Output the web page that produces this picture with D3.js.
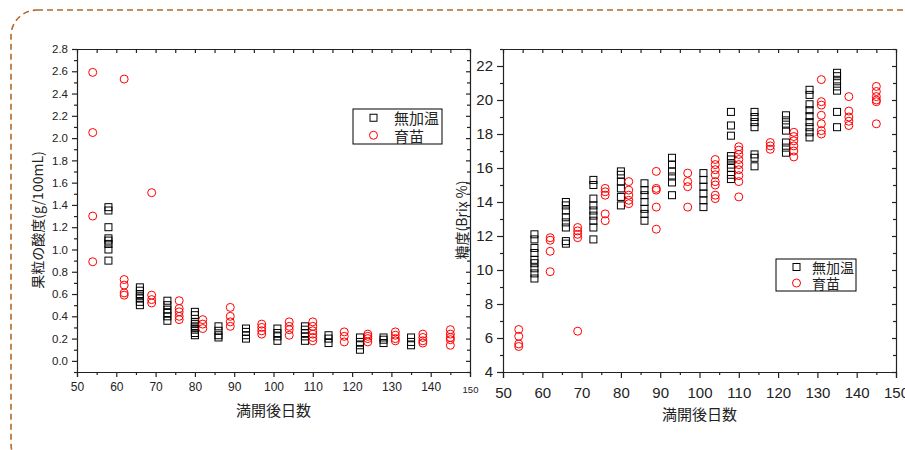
<!DOCTYPE html>
<html>
<head>
<meta charset="utf-8">
<script src="https://cdn.jsdelivr.net/npm/d3@7"></script>
<style>
  body { margin: 0; background: #fff; }
  svg { display: block; }
  .tick text { font-family: "Liberation Sans", Arial, sans-serif; fill: #222; }
  .axis path, .axis line { stroke: #222; }
  .ttl { font-family: "Noto Sans CJK JP", sans-serif; fill: #222; }
</style>
</head>
<body>
<svg id="chart" width="905" height="450"></svg>
<script>
// 日数
let sqDays = [58, 66, 73, 80, 86, 93, 101, 108, 114, 122, 128, 135];
let ciDays = [54, 62, 69, 76, 82, 89, 97, 104, 110, 118, 124, 131, 138, 145];

// 果粒の酸度 (g/100mL)
let acidSq = [
  [1.38, 1.35, 1.20, 1.10, 1.08, 1.05, 1.00, 0.90],
  [0.66, 0.63, 0.60, 0.58, 0.56, 0.53, 0.50],
  [0.54, 0.50, 0.46, 0.43, 0.40, 0.36],
  [0.44, 0.41, 0.35, 0.33, 0.31, 0.30, 0.28, 0.25, 0.23],
  [0.31, 0.27, 0.23, 0.21],
  [0.29, 0.26, 0.23, 0.20],
  [0.29, 0.25, 0.22, 0.18],
  [0.31, 0.28, 0.25, 0.22, 0.18],
  [0.23, 0.20, 0.16],
  [0.21, 0.17, 0.14, 0.10],
  [0.21, 0.19, 0.16],
  [0.21, 0.17, 0.14]
];
let acidCi = [
  [2.59, 2.05, 1.30, 0.89],
  [2.53, 0.73, 0.68, 0.61, 0.59],
  [1.51, 0.59, 0.55, 0.52],
  [0.54, 0.47, 0.44, 0.40, 0.37],
  [0.37, 0.33, 0.29],
  [0.48, 0.40, 0.35, 0.31],
  [0.33, 0.30, 0.27, 0.24],
  [0.35, 0.31, 0.28, 0.23],
  [0.35, 0.31, 0.27, 0.24, 0.21, 0.18],
  [0.26, 0.22, 0.17],
  [0.24, 0.22, 0.20, 0.17],
  [0.26, 0.23, 0.20, 0.18],
  [0.24, 0.21, 0.18, 0.16],
  [0.28, 0.24, 0.21, 0.19, 0.14]
];

// 糖度 (Brix %)
let brixSq = [
  [12.1, 11.8, 11.3, 11.0, 10.6, 10.4, 10.1, 9.8, 9.5],
  [14.0, 13.8, 13.5, 13.1, 12.8, 12.5, 11.7, 11.55],
  [15.3, 15.0, 14.2, 13.8, 13.5, 13.2, 12.9, 12.5, 11.8],
  [15.8, 15.6, 15.2, 14.8, 14.3, 13.8],
  [15.1, 14.7, 14.4, 14.0, 13.6, 13.3, 12.9],
  [16.6, 16.2, 15.8, 15.5, 15.15, 14.4],
  [15.7, 15.3, 14.9, 14.5, 14.1, 13.7],
  [19.3, 18.5, 17.9, 16.7, 16.5, 16.2, 16.0, 15.6, 15.35],
  [19.3, 19.0, 18.7, 18.4, 16.8, 16.6, 16.1],
  [19.1, 18.8, 18.55, 18.2, 17.5, 17.2, 16.9],
  [20.6, 20.3, 19.75, 19.4, 19.05, 18.7, 18.4, 18.1, 17.8],
  [21.6, 21.4, 21.1, 20.8, 20.55, 19.3, 18.4]
];
let brixCi = [
  [6.5, 6.1, 5.65, 5.5],
  [11.9, 11.75, 11.1, 9.9],
  [12.5, 12.3, 12.1, 11.9, 6.4],
  [14.8, 14.6, 14.4, 13.3, 12.9],
  [15.2, 14.7, 14.4, 14.1, 13.9],
  [15.8, 14.8, 14.7, 13.7, 12.4],
  [15.7, 15.2, 14.9, 13.7],
  [16.5, 16.2, 15.9, 15.6, 15.2, 15.0, 14.4, 14.2],
  [17.25, 17.05, 16.8, 16.5, 16.2, 15.9, 15.55, 15.2, 14.3],
  [17.5, 17.3, 17.1],
  [18.1, 17.85, 17.6, 17.3, 17.0, 16.65],
  [21.2, 19.9, 19.7, 19.1, 18.6, 18.2, 18.0],
  [20.2, 19.35, 19.0, 18.75, 18.5],
  [20.8, 20.5, 20.2, 20.0, 19.9, 18.6]
];

let seriesNames = ["無加温", "育苗"];

let svg = d3.select("#chart");

// 点線の枠
svg.append("rect")
  .attr("x", 11).attr("y", 10)
  .attr("width", 915).attr("height", 460)
  .attr("rx", 26).attr("ry", 26)
  .attr("fill", "none")
  .attr("stroke", "#b06a28")
  .attr("stroke-width", 1.6)
  .attr("stroke-dasharray", "6,4");

function flat(days, vals) {
  let out = [];
  days.forEach(function(d, i) {
    vals[i].forEach(function(v) { out.push({day: d, v: v}); });
  });
  return out;
}

function panel(o) {
  let x = d3.scaleLinear().domain([50, 150]).range([o.x0, o.x1]);
  let y = d3.scaleLinear().domain(o.yDom).range([372, 49]);
  let g = svg.append("g");

  let xMaj = d3.range(50, 151, 10);
  let xMin = d3.range(55, 150, 10);

  // 下軸
  g.append("g").attr("class", "axis")
    .attr("transform", "translate(0,372)")
    .call(d3.axisBottom(x).tickValues(xMaj).tickSize(o.tk).tickPadding(o.xPad))
    .call(function(s) { s.selectAll("text").style("font-size", o.fx + "px"); });
  g.append("g").attr("class", "axis")
    .attr("transform", "translate(0,372)")
    .call(d3.axisBottom(x).tickValues(xMin).tickSize(3).tickFormat(""))
    .select(".domain").remove();
  // 上軸 (内向き)
  g.append("g").attr("class", "axis")
    .attr("transform", "translate(0,49)")
    .call(d3.axisTop(x).tickValues(xMaj.concat(xMin)).tickSize(-4).tickFormat("").tickSizeOuter(0));
  // 左軸
  g.append("g").attr("class", "axis")
    .attr("transform", "translate(" + o.x0 + ",0)")
    .call(d3.axisLeft(y).tickValues(o.yMaj).tickSize(o.tk).tickPadding(4).tickFormat(o.fmt).tickSizeOuter(0))
    .call(function(s) { s.selectAll("text").style("font-size", o.fy + "px"); });
  g.append("g").attr("class", "axis")
    .attr("transform", "translate(" + o.x0 + ",0)")
    .call(d3.axisLeft(y).tickValues(o.yMin).tickSize(3).tickFormat(""))
    .select(".domain").remove();
  // 右軸 (内向き)
  g.append("g").attr("class", "axis")
    .attr("transform", "translate(" + o.x1 + ",0)")
    .call(d3.axisRight(y).tickValues(o.yMaj).tickSize(-4).tickFormat("").tickSizeOuter(0));
  g.append("g").attr("class", "axis")
    .attr("transform", "translate(" + o.x1 + ",0)")
    .call(d3.axisRight(y).tickValues(o.yMin).tickSize(-3).tickFormat(""))
    .select(".domain").remove();
  g.selectAll(".axis path, .axis line").attr("stroke-width", 1.2);

  // 無加温 (□)
  g.selectAll(".sq").data(flat(sqDays, o.sq)).enter().append("rect")
    .attr("class", "sq")
    .attr("x", function(d) { return x(d.day) - 3.5; })
    .attr("y", function(d) { return y(d.v) - 3.5; })
    .attr("width", 7).attr("height", 7)
    .attr("fill", "none").attr("stroke", "#000").attr("stroke-width", 1);
  // 育苗 (○)
  g.selectAll(".ci").data(flat(ciDays, o.ci)).enter().append("circle")
    .attr("class", "ci")
    .attr("cx", function(d) { return x(d.day); })
    .attr("cy", function(d) { return y(d.v); })
    .attr("r", 4)
    .attr("fill", "none").attr("stroke", "#ff0000").attr("stroke-width", 1);

  // タイトル
  g.append("text").attr("class", "ttl")
    .attr("x", (o.x0 + o.x1) / 2).attr("y", o.xtY)
    .attr("text-anchor", "middle").attr("dominant-baseline", "central")
    .style("font-size", "15px")
    .text("満開後日数");
  g.append("text").attr("class", "ttl")
    .attr("transform", "translate(" + o.ytX + ",220) rotate(-90)")
    .attr("text-anchor", "middle").attr("dominant-baseline", "central")
    .style("font-size", o.ytSize + "px")
    .text(o.yTitle);

  // 凡例
  let L = o.leg;
  g.append("rect").attr("x", L.x).attr("y", L.y).attr("width", L.w).attr("height", L.h)
    .attr("fill", "#fff").attr("stroke", "#000").attr("stroke-width", 1);
  let rowH = L.h / 2;
  g.append("rect").attr("x", L.x + 17).attr("y", L.y + rowH * 0.5 - 3.5)
    .attr("width", 7).attr("height", 7)
    .attr("fill", "none").attr("stroke", "#000");
  g.append("circle").attr("cx", L.x + 20.5).attr("cy", L.y + rowH * 1.5)
    .attr("r", 4).attr("fill", "none").attr("stroke", "#ff0000");
  seriesNames.forEach(function(n, i) {
    g.append("text").attr("class", "ttl")
      .attr("x", L.x + L.tx).attr("y", L.y + rowH * (i + 0.5))
      .attr("dominant-baseline", "central")
      .style("font-size", L.fs + "px")
      .text(n);
  });
  return g;
}

let gl = panel({
  x0: 77, x1: 470, yDom: [-0.1, 2.8],
  yMaj: d3.range(0, 2.81, 0.2), yMin: d3.range(-0.1, 2.8, 0.2),
  fmt: d3.format(".1f"), tk: 5, xPad: 5, fx: 12, fy: 11.5,
  sq: acidSq, ci: acidCi,
  xtY: 409, ytX: 37, ytSize: 14, yTitle: "果粒の酸度(g/100mL)",
  leg: {x: 353, y: 109, w: 89, h: 35, tx: 41, fs: 15}
});
// 左図の「150」は小さく表示されている
gl.selectAll(".tick text").filter(function(d) { return d === 150; })
  .style("font-size", "9.5px").attr("y", 14);

panel({
  x0: 503, x1: 896, yDom: [4, 23],
  yMaj: d3.range(4, 23, 2), yMin: d3.range(5, 24, 2),
  fmt: d3.format("d"), tk: 6, xPad: 9, fx: 15, fy: 15,
  sq: brixSq, ci: brixCi,
  xtY: 413, ytX: 461, ytSize: 14, yTitle: "糖度(Brix %)",
  leg: {x: 776, y: 259, w: 80, h: 32, tx: 36, fs: 14}
});
</script>
</body>
</html>
